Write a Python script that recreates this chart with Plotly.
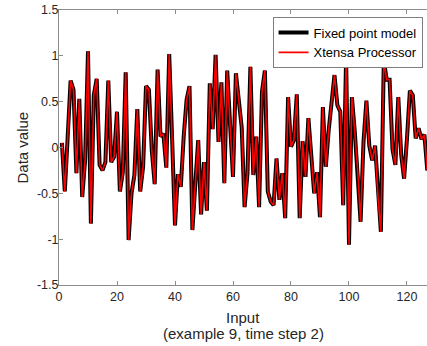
import plotly.graph_objects as go

x_input = list(range(1, 129))
data_values = [
    0.05, -0.48, 0.12, 0.73, 0.63, -0.28, 0.53, -0.54, -0.14, 1.05,
    -0.83, 0.57, 0.75, -0.19, -0.25, -0.16, 0.73, -0.16, -0.10, 0.39,
    -0.48, -0.27, 0.82, -1.01, -0.50, -0.30, 0.42, -0.48, -0.21, 0.67,
    0.63, -0.03, -0.40, 0.85, 0.12, 0.15, -0.22, 1.02, 0.10, -0.85,
    -0.29, -0.43, 0.12, 0.52, 0.67, -0.90, -0.40, 0.08, -0.73, -0.16,
    -0.69, 0.70, 0.20, 1.01, 0.06, 0.71, -0.39, 0.84, 0.25, -0.32,
    0.81, 0.50, 0.22, -0.65, -0.28, 0.88, -0.30, 0.12, -0.65, 0.61,
    0.84, -0.48, -0.59, -0.63, -0.12, -0.57, -0.28, -0.77, 0.55, 0.01,
    0.08, 0.58, -0.77, 0.07, -0.32, 0.32, -0.10, -0.50, -0.27, -0.76,
    0.44, -0.21, 0.19, 0.52, 0.79, 0.46, 0.39, -0.63, 0.98, -1.06,
    0.55, 0.17, -0.25, -0.81, 0.06, 0.51, 0.02, -0.14, 0.02, -0.54,
    -0.92, 0.95, 0.74, 0.74, -0.02, -0.19, 0.55, -0.08, -0.34, 0.10,
    0.62, 0.57, 0.10, 0.21, 0.09, 0.14, -0.25, -0.10,
]
fixed_model = data_values
xtensa = data_values

x_ticks = [0, 20, 40, 60, 80, 100, 120]
y_ticks = [-1.5, -1, -0.5, 0, 0.5, 1, 1.5]
y_tick_text = ["-1.5", "-1", "-0.5", "0", "0.5", "1", "1.5"]
x_title = "Input"
x_subtitle = "(example 9, time step 2)"
y_title = "Data value"

FONT = "Liberation Sans, Arial, Helvetica, sans-serif"
AX = "#262626"

fig = go.Figure()
fig.add_trace(go.Scatter(x=x_input, y=fixed_model, mode="lines",
                         name="Fixed point model",
                         line=dict(color="black", width=4)))
fig.add_trace(go.Scatter(x=x_input, y=xtensa, mode="lines",
                         name="Xtensa Processor",
                         line=dict(color="red", width=1.6)))

axis_common = dict(showgrid=False, zeroline=False, showline=True,
                   linecolor="#8c8c8c", linewidth=1, ticks="inside",
                   tickcolor="#8c8c8c", ticklen=4,
                   tickfont=dict(family=FONT, size=12.5, color=AX))

fig.update_xaxes(range=[0, 126.9], tickvals=x_ticks, mirror="ticks",
                 **axis_common)
fig.update_yaxes(range=[-1.5, 1.5], tickvals=y_ticks, ticktext=y_tick_text,
                 mirror=False, ticklabelstandoff=-3,
                 **axis_common)

fig.add_annotation(text=x_title, xref="paper", yref="paper", x=0.5, y=0,
                   yanchor="middle", yshift=-32, showarrow=False,
                   font=dict(family=FONT, size=15, color=AX))
fig.add_annotation(text=x_subtitle, xref="paper", yref="paper", x=0.5, y=0,
                   yanchor="middle", yshift=-48, showarrow=False,
                   font=dict(family=FONT, size=15, color=AX))
fig.add_annotation(text=y_title, xref="paper", yref="paper", x=0, y=0.5,
                   xanchor="center", yanchor="middle", xshift=-37,
                   textangle=-90, showarrow=False,
                   font=dict(family=FONT, size=15, color=AX))

fig.update_layout(
    width=427, height=346,
    margin=dict(l=59, r=0, t=10, b=61),
    plot_bgcolor="white", paper_bgcolor="white",
    showlegend=True,
    legend=dict(x=0.989, y=0.975, xanchor="right", yanchor="top",
                bgcolor="white", bordercolor=AX, borderwidth=0.6,
                font=dict(family=FONT, size=13, color="black"),
                tracegroupgap=0, itemwidth=30),
)

fig.write_html(
    "out.html",
    config={"displayModeBar": False},
    post_script="document.body.style.margin='0';"
                "document.documentElement.style.overflow='hidden';"
                "document.body.style.overflow='hidden';",
)
